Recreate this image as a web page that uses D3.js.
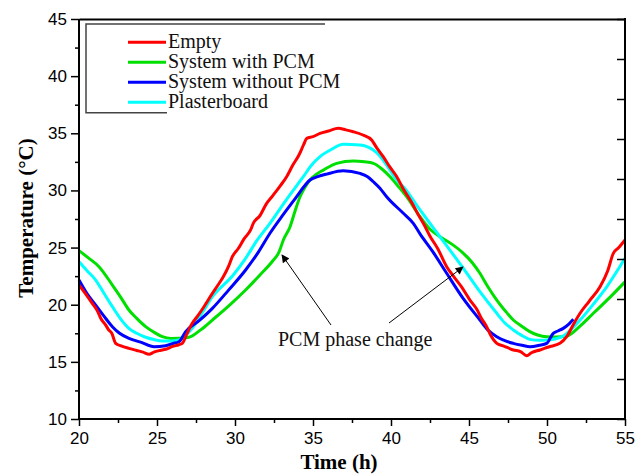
<!DOCTYPE html>
<html><head><meta charset="utf-8">
<script src="https://cdn.jsdelivr.net/npm/d3@7"></script>
<style>body{margin:0;background:#fff}svg{display:block}</style>
</head><body>
<svg id="c" width="642" height="475"></svg>
<script>
const seriesNames = ["Empty", "System with PCM", "System without PCM", "Plasterboard"];
const seriesColors = ["#ff0000", "#00e000", "#0000ff", "#00ffff"];
const xTicks = [20, 25, 30, 35, 40, 45, 50, 55];
const yTicks = [10, 15, 20, 25, 30, 35, 40, 45];

const emptyData = [[20,21.72],[20.4,21.0],[20.85,20.12],[21.2,19.4],[21.4,18.8],[21.71,18.22],[21.9,17.8],[22.1,17.5],[22.35,16.62],[22.7,16.4],[23.2,16.18],[23.7,16.0],[24.1,15.85],[24.49,15.66],[24.8,15.85],[25.2,16.0],[25.55,16.1],[26.0,16.35],[26.4,16.5],[26.62,16.62],[26.9,17.4],[27.26,18.37],[27.6,19.0],[28.0,19.8],[28.55,20.99],[28.9,21.7],[29.25,22.45],[29.6,23.4],[29.83,24.2],[30.2,24.9],[30.6,25.8],[31.0,26.54],[31.17,27.12],[31.6,27.8],[32.0,28.8],[32.4,29.5],[32.9,30.4],[33.31,31.2],[33.7,32.2],[34.1,33.1],[34.4,34.0],[34.6,34.55],[35.0,34.7],[35.45,34.99],[36.0,35.2],[36.62,35.43],[37.1,35.3],[37.58,35.14],[38.2,34.85],[38.76,34.41],[39.1,33.7],[39.5,32.95],[39.9,32.1],[40.37,31.2],[40.8,30.1],[41.3,29.0],[41.86,27.6],[42.07,27.12],[42.5,26.0],[43.0,24.9],[43.57,23.33],[44.0,22.5],[44.5,21.6],[45.06,20.41],[45.5,19.6],[45.8,18.8],[46.13,18.08],[46.4,17.3],[46.78,16.62],[47.2,16.4],[47.84,16.04],[48.3,15.9],[48.7,15.54],[49.0,15.8],[49.55,16.04],[50.1,16.3],[50.83,16.62],[51.26,17.2],[51.7,18.3],[52.12,19.25],[52.7,20.3],[53.4,21.57],[53.9,23.0],[54.25,24.5],[54.6,25.0],[55.0,25.66]];

const withPcmData = [[20,24.73],[20.6,24.1],[21.28,23.33],[22.14,21.72],[22.7,20.6],[23.2,19.54],[23.7,18.8],[24.27,18.08],[24.8,17.6],[25.34,17.2],[25.9,17.05],[26.4,17.06],[27.05,17.15],[27.8,17.8],[28.55,18.66],[29.6,19.9],[30.68,21.29],[31.6,22.6],[32.4,23.8],[32.82,24.6],[33.1,25.66],[33.53,26.83],[33.85,28.2],[34.17,29.45],[34.5,30.3],[34.8,30.9],[35.2,31.4],[35.66,31.78],[36.52,32.37],[37.58,32.57],[38.3,32.5],[38.87,32.37],[39.4,31.9],[39.94,31.2],[40.5,30.3],[41.0,29.45],[41.86,27.7],[42.5,26.6],[43.14,25.95],[43.9,25.3],[44.64,24.5],[45.2,23.7],[45.7,22.75],[46.2,21.6],[46.78,20.41],[47.3,19.5],[47.84,18.66],[48.4,18.1],[48.9,17.64],[49.4,17.35],[49.98,17.2],[50.6,17.18],[51.26,17.26],[52.1,18.1],[52.97,19.25],[54.0,20.6],[55.0,22.0]];

const withoutPcmData = [[20,22.16],[20.5,21.0],[21.07,19.97],[21.6,19.0],[22.14,18.08],[22.6,17.5],[23.2,17.06],[24.0,16.7],[24.81,16.33],[25.55,16.41],[26.0,16.6],[26.41,16.76],[26.84,17.64],[27.7,18.6],[28.55,19.68],[29.6,21.3],[30.68,23.04],[31.5,24.6],[32.24,26.25],[33.1,27.9],[33.95,29.45],[34.4,30.3],[34.81,30.91],[35.3,31.2],[35.88,31.43],[36.94,31.72],[38.01,31.49],[38.5,31.2],[38.87,30.76],[39.29,30.2],[39.72,29.45],[40.79,28.0],[41.43,27.12],[41.86,26.2],[42.7,24.6],[43.57,22.75],[44.6,20.6],[45.7,18.66],[46.2,17.8],[46.78,17.2],[47.3,16.85],[47.84,16.62],[48.4,16.45],[48.9,16.33],[49.5,16.45],[49.98,16.62],[50.4,17.5],[50.7,17.7],[51.04,17.93],[51.4,18.3],[51.69,18.72]];

const plasterData = [[20,23.77],[20.5,23.0],[21.07,22.16],[21.6,21.0],[22.14,19.83],[22.7,18.7],[23.2,17.93],[23.7,17.5],[24.27,17.15],[24.8,16.95],[25.34,16.82],[25.9,16.82],[26.41,16.91],[26.8,17.3],[27.26,17.93],[27.9,19.3],[28.55,20.7],[29.89,22.6],[30.68,24.06],[31.4,25.6],[32.24,27.12],[33.3,29.2],[34.38,31.2],[34.9,32.2],[35.45,32.95],[36.2,33.6],[36.94,34.03],[38.01,33.97],[38.87,33.53],[39.3,33.0],[39.72,32.22],[40.37,30.9],[40.79,30.32],[41.86,28.29],[42.5,27.12],[43.6,25.1],[44.64,23.18],[45.7,21.14],[46.78,19.25],[47.3,18.4],[47.84,17.79],[48.4,17.3],[48.9,16.97],[49.5,16.88],[49.98,16.91],[50.5,17.0],[51.04,17.26],[51.6,17.9],[52.12,18.66],[53.0,20.1],[53.83,21.57],[55.0,24.06]];

const seriesData = [emptyData, withPcmData, withoutPcmData, plasterData];

const svg = d3.select("#c");
const L = 79, R = 625, T = 19, B = 419;
const x = d3.scaleLinear().domain([20, 55]).range([L, R]);
const y = d3.scaleLinear().domain([10, 45]).range([B, T]);

// curves (draw red last)
const line = d3.line().x(d => x(d[0])).y(d => y(d[1])).curve(d3.curveMonotoneX);
const order = [1, 3, 2, 0];
order.forEach(i => {
  svg.append("path").datum(seriesData[i])
    .attr("fill", "none").attr("stroke", seriesColors[i])
    .attr("stroke-width", 3).attr("stroke-linejoin", "round")
    .attr("d", line);
});

// axes
const fontTick = "'Liberation Sans', Arial, sans-serif";
const ax = svg.append("g").attr("transform", `translate(0,${B})`)
  .call(d3.axisBottom(x).tickValues(xTicks).tickSize(7).tickPadding(6).tickFormat(d3.format("d")));
ax.selectAll("text").attr("font-family", fontTick).attr("font-size", 17).attr("fill", "#000");
const axm = svg.append("g").attr("transform", `translate(0,${B})`)
  .call(d3.axisBottom(x).tickValues(xTicks.slice(0, -1).map(v => v + 2.5)).tickSize(4).tickFormat(""));
const ay = svg.append("g").attr("transform", `translate(${L},0)`)
  .call(d3.axisLeft(y).tickValues(yTicks).tickSize(8).tickPadding(4).tickFormat(d3.format("d")));
ay.selectAll("text").attr("font-family", fontTick).attr("font-size", 17).attr("fill", "#000");
const aym = svg.append("g").attr("transform", `translate(${L},0)`)
  .call(d3.axisLeft(y).tickValues(yTicks.slice(0, -1).map(v => v + 2.5)).tickSize(4).tickFormat(""));
const yr = d3.scaleLinear().domain([0, 10]).range([B, T]);
const ar = svg.append("g").attr("transform", `translate(${R},0)`)
  .call(d3.axisLeft(yr).ticks(10).tickSize(8).tickFormat(""));
const at = svg.append("g").attr("transform", `translate(0,${T})`)
  .call(d3.axisTop(x).tickValues([]).tickSizeOuter(0));
[ax, axm, ay, aym, ar, at].forEach(g => {
  g.selectAll("path").attr("stroke", "#000").attr("stroke-width", 2);
  g.selectAll("line").attr("stroke", "#000").attr("stroke-width", 1.5);
});
[axm, aym, ar].forEach(g => g.select("path.domain").remove());
ax.select("path.domain").attr("d", `M${L},0H${R}`);
ay.select("path.domain").attr("d", `M0,${T}V${B}`);
svg.append("line").attr("x1", R).attr("x2", R).attr("y1", T - 1).attr("y2", B + 1).attr("stroke", "#000").attr("stroke-width", 2);

// axis titles
const serif = "'Liberation Serif', 'Times New Roman', serif";
svg.append("text").attr("x", 339).attr("y", 469).attr("text-anchor", "middle")
  .attr("font-family", serif).attr("font-weight", "bold").attr("font-size", 21)
  .text("Time (h)");
svg.append("text").attr("transform", "translate(33,218) rotate(-90)").attr("text-anchor", "middle")
  .attr("font-family", serif).attr("font-weight", "bold").attr("font-size", 21)
  .text("Temperature (°C)");

// legend
const lg = svg.append("g");
lg.append("path").attr("d", "M325,24H86V112.7H167").attr("fill", "none").attr("stroke", "#444").attr("stroke-width", 1.5);
seriesNames.forEach((n, i) => {
  const yy = 42.3 + i * 20;
  lg.append("line").attr("x1", 128).attr("x2", 166).attr("y1", yy).attr("y2", yy)
    .attr("stroke", seriesColors[i]).attr("stroke-width", 3);
  lg.append("text").attr("x", 168).attr("y", yy + 6).attr("font-family", serif)
    .attr("font-size", 20).attr("fill", "#111").text(n);
});

// annotation
const defs = svg.append("defs");
defs.append("marker").attr("id", "ah").attr("viewBox", "0 0 10 10").attr("refX", 9).attr("refY", 5)
  .attr("markerWidth", 10).attr("markerHeight", 8).attr("markerUnits", "userSpaceOnUse").attr("orient", "auto")
  .append("path").attr("d", "M0,0L10,5L0,10z").attr("fill", "#000");
svg.append("line").attr("x1", 331).attr("y1", 325).attr("x2", 282).attr("y2", 255)
  .attr("stroke", "#000").attr("stroke-width", 1).attr("marker-end", "url(#ah)");
svg.append("line").attr("x1", 389).attr("y1", 323).attr("x2", 463).attr("y2", 267)
  .attr("stroke", "#000").attr("stroke-width", 1).attr("marker-end", "url(#ah)");
svg.append("text").attr("x", 278).attr("y", 346).attr("font-family", serif)
  .attr("font-size", 20).attr("fill", "#111").text("PCM phase change");
</script>
</body></html>
